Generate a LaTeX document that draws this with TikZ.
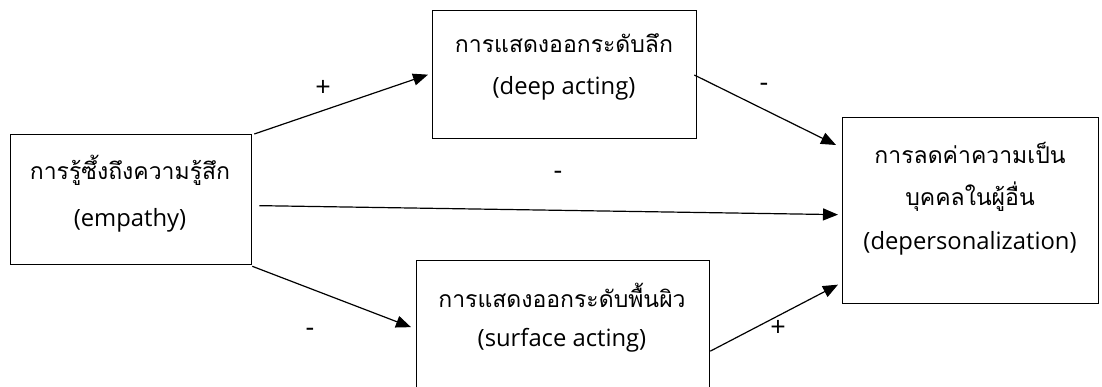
\documentclass[tikz,border=0pt]{standalone}
\usepackage{fontspec}
\setmainfont[Script=Thai]{Loma}
\newfontfamily\latinfont{Open Sans}
\usetikzlibrary{arrows.meta,calc}
\begin{document}
\begin{tikzpicture}[x=1pt,y=-1pt,
  box/.style={draw,line width=1.3pt,inner sep=0pt,anchor=north west},
  txt/.style={font=\fontsize{23}{26}\selectfont,inner sep=0pt},
  etxt/.style={font=\latinfont\fontsize{23.8}{26}\selectfont,inner sep=0pt},
  lbl/.style={font=\latinfont\fontsize{27}{30}\selectfont,inner sep=0pt},
  conn/.style={line width=1.2pt,-{Triangle[length=15pt,width=12pt]}}]
\useasboundingbox (0,0) rectangle (1102,387);
% boxes
\node[box,minimum width=241pt,minimum height=130pt] (emp) at (10,134) {};
\node[box,minimum width=264pt,minimum height=128pt] (deep) at (432,10) {};
\node[box,minimum width=256pt,minimum height=186pt] (dep) at (842,117) {};
\node[box,minimum width=293pt,minimum height=127pt] (surf) at (416,260) {};
% texts
\node[txt] (t1) at (130,170) {การรู้ซึ้งถึงความรู้สึก};
\node[etxt] (t2) at (130,220) {(empathy)};
\node[txt] (t3) at (564,43) {การแสดงออกระดับลึก};
\node[etxt] (t4) at (564,88) {(deep acting)};
\node[txt] (t5) at (970,153) {การลดค่าความเป็น};
\node[txt] (t6) at (970,197) {บุคคลในผู้อื่น};
\node[etxt] (t7) at (970,243) {(depersonalization)};
\node[txt] (t8) at (562,295) {การแสดงออกระดับพื้นผิว};
\node[etxt] (t9) at (562,340) {(surface acting)};
% connector end points
\coordinate (a1) at ($(emp.north east)+(2,0)$);
\coordinate (b1) at ($(deep.west)+(-4,0)$);
\coordinate (a2) at ($(deep.north east)+(-3,65)$);
\coordinate (b2) at ($(dep.north west)+(-6,28)$);
\coordinate (a3) at ($(emp.east)+(7,6)$);
\coordinate (b3) at ($(dep.west)+(-4,4)$);
\coordinate (a4) at ($(emp.south east)+(0,1)$);
\coordinate (b4) at ($(surf.west)+(-5,3)$);
\coordinate (a5) at ($(surf.east)+(0,27)$);
\coordinate (b5) at ($(dep.west)+(-4,74)$);
\draw[conn] (a1) -- (b1);
\draw[conn] (a2) -- (b2);
\draw[conn] (a3) -- (b3);
\draw[conn] (a4) -- (b4);
\draw[conn] (a5) -- (b5);
% labels
\node[lbl] (p1) at (323,88) {+};
\node[lbl] (p2) at (764,87) {-};
\node[lbl] (p3) at (558,175) {-};
\node[lbl] (p4) at (310,332) {-};
\node[lbl] (p5) at (778,328) {+};
\end{tikzpicture}
\end{document}
